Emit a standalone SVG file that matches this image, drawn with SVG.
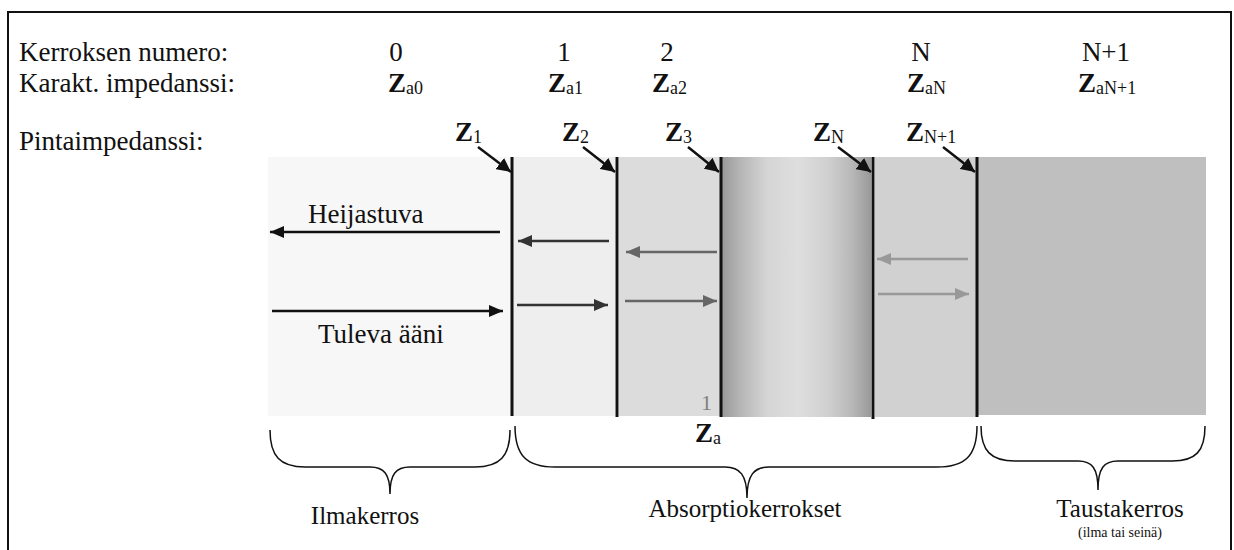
<svg xmlns="http://www.w3.org/2000/svg" width="1234" height="550" viewBox="0 0 1234 550">
<style>
.t{font-family:"Liberation Serif","Times New Roman",serif;font-size:27px;fill:#111}
.z{font-family:"Liberation Serif","Times New Roman",serif;font-size:27px;font-weight:bold;fill:#111}
.s{font-size:18px;font-weight:normal}
.b{font-family:"Liberation Serif","Times New Roman",serif;font-size:25px;fill:#111}
.bnd{stroke:#111;stroke-width:3}
.bndg{stroke:#888;stroke-width:4}
.ptr{stroke:#111;stroke-width:2.5;fill:none}
.brace{stroke:#111;stroke-width:1.5;fill:none}
</style>
<defs>
<linearGradient id="gN" x1="0" y1="0" x2="1" y2="0">
<stop offset="0" stop-color="#999"/>
<stop offset="0.12" stop-color="#b5b5b5"/>
<stop offset="0.3" stop-color="#d5d5d5"/>
<stop offset="0.5" stop-color="#dedede"/>
<stop offset="0.7" stop-color="#d0d0d0"/>
<stop offset="0.86" stop-color="#b8b8b8"/>
<stop offset="1" stop-color="#969696"/>
</linearGradient>
<marker id="mk" markerUnits="userSpaceOnUse" markerWidth="16" markerHeight="14" refX="14" refY="7" orient="auto"><path d="M0,0 L14,7 L0,14 Z" fill="#111"/></marker>
<marker id="m1" markerUnits="userSpaceOnUse" markerWidth="16" markerHeight="14" refX="14" refY="6" orient="auto"><path d="M0,0 L14,6 L0,12 Z" fill="#111"/></marker>
<marker id="m2" markerUnits="userSpaceOnUse" markerWidth="16" markerHeight="14" refX="14" refY="6" orient="auto"><path d="M0,0 L14,6 L0,12 Z" fill="#333"/></marker>
<marker id="m3" markerUnits="userSpaceOnUse" markerWidth="16" markerHeight="14" refX="14" refY="6" orient="auto"><path d="M0,0 L14,6 L0,12 Z" fill="#666"/></marker>
<marker id="m4" markerUnits="userSpaceOnUse" markerWidth="16" markerHeight="14" refX="14" refY="6" orient="auto"><path d="M0,0 L14,6 L0,12 Z" fill="#999"/></marker>
</defs>
<rect width="1234" height="550" fill="#fff"/>
<path d="M8,551 V12 H1231 V551" fill="none" stroke="#111" stroke-width="2"/>

<g id="labels">
<text class="t" x="19" y="61">Kerroksen numero:</text>
<text class="t" x="19" y="92">Karakt. impedanssi:</text>
<text class="t" x="19" y="150">Pintaimpedanssi:</text>
</g>

<g id="layer0">
<rect x="268" y="157" width="245" height="259" fill="#f7f7f7"/>
<text class="t" x="396" y="61" text-anchor="middle">0</text>
<text class="z" x="388" y="92">Z<tspan class="s" dy="2">a0</tspan></text>
</g>
<g id="layer1">
<rect x="513" y="157" width="105" height="259" fill="#eeeeee"/>
<text class="t" x="564" y="61" text-anchor="middle">1</text>
<text class="z" x="548" y="92">Z<tspan class="s" dy="2">a1</tspan></text>
</g>
<g id="layer2">
<rect x="618" y="157" width="104" height="259" fill="#dcdcdc"/>
<text class="t" x="667" y="61" text-anchor="middle">2</text>
<text class="z" x="652" y="92">Z<tspan class="s" dy="2">a2</tspan></text>
<text x="712" y="410" text-anchor="end" font-family="Liberation Serif, serif" font-size="22" fill="#808080">1</text>
</g>
<g id="layerMid">
<rect x="722" y="157" width="151" height="260" fill="url(#gN)"/>
</g>
<g id="layerN">
<rect x="873" y="157" width="105" height="260" fill="#d1d1d1"/>
<text class="t" x="921" y="61" text-anchor="middle">N</text>
<text class="z" x="907" y="92">Z<tspan class="s" dy="2">aN</tspan></text>
</g>
<g id="layerN1">
<rect x="978" y="157" width="228" height="258" fill="#bfbfbf"/>
<text class="t" x="1106" y="61" text-anchor="middle">N+1</text>
<text class="z" x="1078" y="92">Z<tspan class="s" dy="2">aN+1</tspan></text>
</g>

<g id="boundaries">
<line class="bnd" x1="512" y1="157" x2="512" y2="416"/>
<line class="bndg" x1="617" y1="157" x2="617" y2="417"/>
<line x1="617" y1="157" x2="617" y2="417" stroke="#111" stroke-width="2"/>
<line class="bnd" x1="721" y1="157" x2="721" y2="417"/>
<line class="bndg" x1="873" y1="157" x2="873" y2="419"/>
<line x1="873" y1="157" x2="873" y2="419" stroke="#111" stroke-width="2"/>
<line class="bnd" x1="977" y1="157" x2="977" y2="417"/>
</g>

<g id="surface-labels">
<text class="z" x="455" y="141">Z<tspan class="s" dy="2">1</tspan></text>
<text class="z" x="562" y="141">Z<tspan class="s" dy="2">2</tspan></text>
<text class="z" x="665" y="141">Z<tspan class="s" dy="2">3</tspan></text>
<text class="z" x="813" y="141">Z<tspan class="s" dy="2">N</tspan></text>
<text class="z" x="906" y="141">Z<tspan class="s" dy="2">N+1</tspan></text>
<text class="z" x="695" y="442">Z<tspan class="s" dy="2">a</tspan></text>
</g>

<g id="connectors">
<line class="ptr" x1="478" y1="147" x2="511" y2="172" marker-end="url(#mk)"/>
<line class="ptr" x1="583" y1="147" x2="615" y2="172" marker-end="url(#mk)"/>
<line class="ptr" x1="688" y1="147" x2="719" y2="172" marker-end="url(#mk)"/>
<line class="ptr" x1="838" y1="147" x2="871" y2="172" marker-end="url(#mk)"/>
<line class="ptr" x1="943" y1="147" x2="975" y2="172" marker-end="url(#mk)"/>

<line x1="500" y1="232" x2="270" y2="232" stroke="#111" stroke-width="2.5" marker-end="url(#m1)"/>
<line x1="272" y1="311" x2="503" y2="311" stroke="#111" stroke-width="2.5" marker-end="url(#m1)"/>
<line x1="609" y1="241" x2="518" y2="241" stroke="#333" stroke-width="2.5" marker-end="url(#m2)"/>
<line x1="517" y1="305" x2="608" y2="305" stroke="#333" stroke-width="2.5" marker-end="url(#m2)"/>
<line x1="717" y1="252" x2="626" y2="252" stroke="#666" stroke-width="2.5" marker-end="url(#m3)"/>
<line x1="625" y1="301" x2="717" y2="301" stroke="#666" stroke-width="2.5" marker-end="url(#m3)"/>
<line x1="968" y1="259" x2="877" y2="259" stroke="#999" stroke-width="2.5" marker-end="url(#m4)"/>
<line x1="878" y1="294" x2="969" y2="294" stroke="#999" stroke-width="2.5" marker-end="url(#m4)"/>
</g>

<g id="wave-labels">
<text class="t" x="308" y="223">Heijastuva</text>
<text class="t" x="318" y="343">Tuleva ääni</text>
</g>

<g id="brace-air">
<path class="brace" d="M270,430 C270,456 280,467 305,467 L370,467 C384,467 390,474 390,494 C390,474 396,467 410,467 L475,467 C500,467 510,456 510,430"/>
<text class="b" x="365" y="524" text-anchor="middle">Ilmakerros</text>
</g>
<g id="brace-absorption">
<path class="brace" d="M515,426 C515,456 527,467 555,467 L725,467 C740,467 747,475 747,498 C747,475 754,467 769,467 L937,467 C965,467 977,456 977,426"/>
<text class="b" x="745" y="517" text-anchor="middle">Absorptiokerrokset</text>
</g>
<g id="brace-back">
<path class="brace" d="M981,426 C981,451 991,461 1015,461 L1078,461 C1092,461 1098,468 1098,490 C1098,468 1104,461 1118,461 L1172,461 C1196,461 1205,451 1205,426"/>
<text class="b" x="1120" y="517" text-anchor="middle">Taustakerros</text>
<text x="1120" y="537" text-anchor="middle" font-family="Liberation Serif, serif" font-size="14" fill="#111">(ilma tai seinä)</text>
</g>
</svg>
